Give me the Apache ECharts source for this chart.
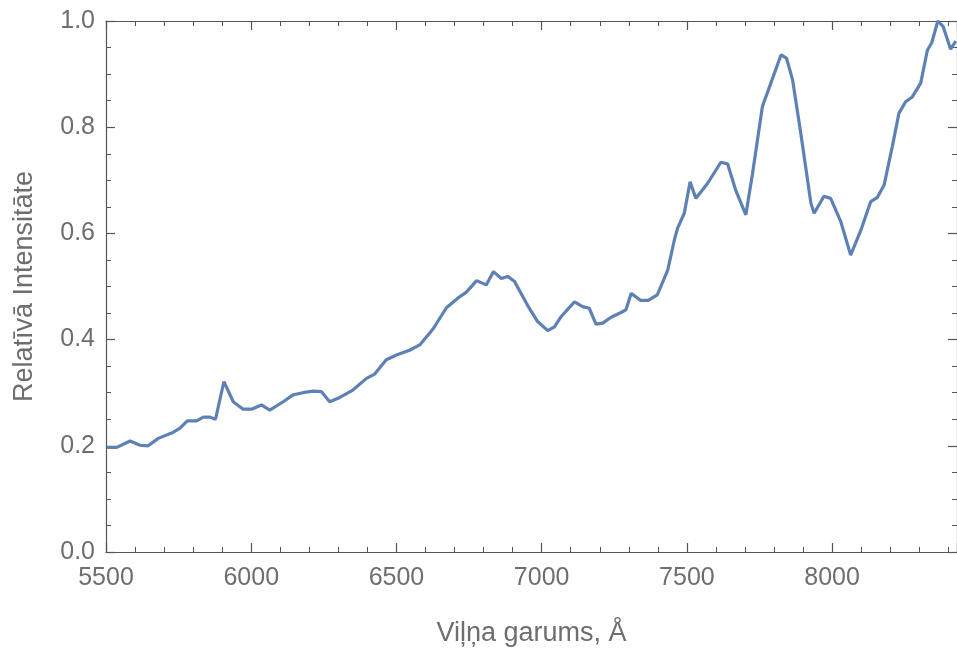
<!DOCTYPE html>
<html>
<head>
<meta charset="utf-8">
<title>Spektrs</title>
<script src="https://cdn.jsdelivr.net/npm/echarts@6/dist/echarts.min.js"></script>
<style>
	html, body { margin: 0; padding: 0; background: #fff; }
	#main { width: 957px; height: 648px; }
</style>
</head>
<body>
<div id="main"></div>
<script>
// vilna garums, A
var wavelength = [5502, 5537, 5583, 5617, 5645, 5680, 5726, 5754, 5780, 5812, 5835, 5858, 5877, 5906, 5938, 5972,
	6001, 6035, 6064, 6110, 6144, 6178, 6213, 6242, 6270, 6305, 6350, 6397, 6425, 6465, 6500, 6545, 6580, 6626,
	6672, 6711, 6740, 6776, 6809, 6834, 6861, 6883, 6906, 6951, 6986, 7021, 7044, 7068, 7113, 7141, 7164, 7187,
	7210, 7239, 7273, 7290, 7308, 7340, 7367, 7398, 7434, 7457, 7468, 7491, 7511, 7531, 7571, 7617, 7640, 7669,
	7703, 7726, 7760, 7789, 7824, 7843, 7864, 7892, 7927, 7938, 7972, 7995, 8030, 8064, 8099, 8133, 8156, 8179,
	8207, 8230, 8253, 8276, 8305, 8328, 8343, 8364, 8382, 8408, 8426];
// relativa intensitate
var intensity = [0.197, 0.197, 0.209, 0.201, 0.200, 0.214, 0.224, 0.233, 0.247, 0.247, 0.254, 0.254, 0.250, 0.321, 0.283, 0.269,
	0.269, 0.277, 0.267, 0.283, 0.296, 0.300, 0.303, 0.302, 0.283, 0.291, 0.305, 0.327, 0.335, 0.362, 0.371, 0.380, 0.390, 0.420,
	0.460, 0.478, 0.489, 0.511, 0.503, 0.528, 0.515, 0.519, 0.510, 0.465, 0.434, 0.417, 0.424, 0.444, 0.471, 0.462, 0.459, 0.429,
	0.431, 0.442, 0.451, 0.456, 0.487, 0.474, 0.474, 0.484, 0.531, 0.588, 0.610, 0.638, 0.697, 0.666, 0.694, 0.734, 0.731, 0.680,
	0.635, 0.713, 0.839, 0.883, 0.936, 0.930, 0.889, 0.789, 0.657, 0.638, 0.670, 0.666, 0.622, 0.559, 0.606, 0.660, 0.668, 0.691,
	0.763, 0.826, 0.848, 0.857, 0.883, 0.945, 0.959, 1.000, 0.990, 0.947, 0.962];

var xRange = [5500, 8430];
var yRange = [0, 1];

var pageModule = function () {

	var frameColor = '#555';
	var labelColor = '#6e6e6e';
	var font = 'Liberation Sans, Arial, sans-serif';

	var frameAxis = function (pos, min, max, interval, minorSplit, showLabel) {
		return {
			type: 'value',
			position: pos,
			min: min,
			max: max,
			interval: interval,
			axisLine: { show: true, onZero: false, lineStyle: { color: frameColor, width: 1.2 } },
			axisTick: { show: true, inside: true, length: 9, lineStyle: { color: frameColor, width: 1.2 } },
			minorTick: { show: true, splitNumber: minorSplit, length: 5, lineStyle: { color: frameColor, width: 1 } },
			splitLine: { show: false },
			minorSplitLine: { show: false },
			axisLabel: {
				show: showLabel,
				margin: pos == 'left' ? 11 : 14,
				color: labelColor,
				fontFamily: font,
				fontSize: 25,
				showMaxLabel: pos == 'left',
				formatter: function (v) {
					if (pos == 'left') return v.toFixed(1);
					return v % 500 == 0 ? String(v) : '';
				}
			}
		};
	};

	var initChart = function () {
		var chart = echarts.init(document.getElementById('main'));
		var points = wavelength.map(function (w, i) { return [w, intensity[i]]; });

		var xBottom = frameAxis('bottom', xRange[0], xRange[1], 500, 5, true);
		xBottom.name = 'Viļņa garums, Å';
		xBottom.nameLocation = 'middle';
		xBottom.nameGap = 68;
		xBottom.nameTextStyle = { color: labelColor, fontFamily: font, fontSize: 27 };

		var yLeft = frameAxis('left', yRange[0], yRange[1], 0.2, 4, true);
		yLeft.name = 'Relatīvā Intensitāte';
		yLeft.nameLocation = 'middle';
		yLeft.nameGap = 68;
		yLeft.nameTextStyle = { color: labelColor, fontFamily: font, fontSize: 27 };

		chart.setOption({
			animation: false,
			grid: { left: 106, right: 0, top: 21, bottom: 96, containLabel: false, outerBoundsMode: 'none' },
			xAxis: [xBottom, frameAxis('top', xRange[0], xRange[1], 500, 5, false)],
			yAxis: [yLeft, frameAxis('right', yRange[0], yRange[1], 0.2, 4, false)],
			series: [{
				type: 'line',
				xAxisIndex: 0,
				yAxisIndex: 0,
				data: points,
				showSymbol: false,
				clip: false,
				lineStyle: { color: '#5e81b5', width: 3.2 }
			}]
		});
	};

	return {
		initControl: function () {
			initChart();
		}
	};
}();

pageModule.initControl();
</script>
</body>
</html>
